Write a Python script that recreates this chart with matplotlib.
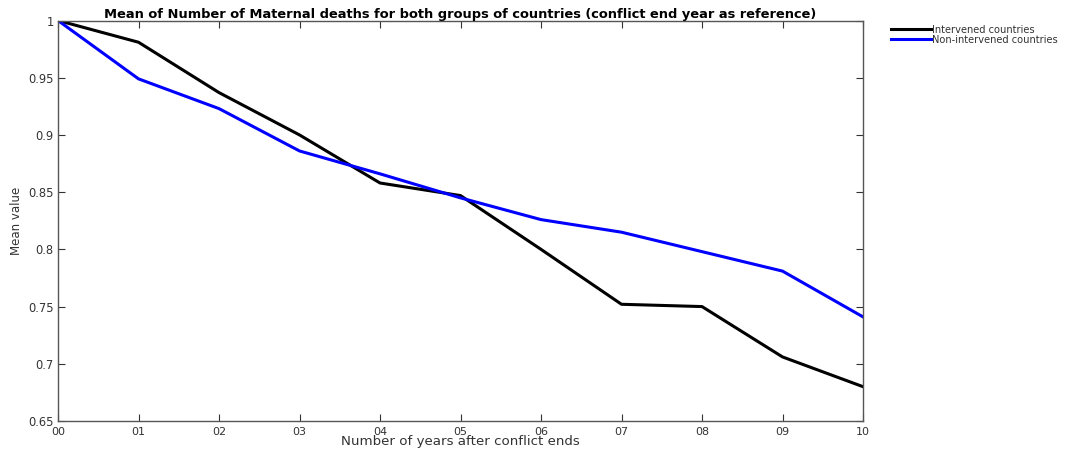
import matplotlib
matplotlib.use("Agg")
import matplotlib.pyplot as plt
from matplotlib.lines import Line2D

years = ["00", "01", "02", "03", "04", "05", "06", "07", "08", "09", "10"]
intervened = [1.000, 0.981, 0.937, 0.900, 0.858, 0.847, 0.800, 0.752, 0.750, 0.706, 0.680]
non_intervened = [1.000, 0.949, 0.923, 0.886, 0.866, 0.845, 0.826, 0.815, 0.798, 0.781, 0.741]
y_ticks = [0.65, 0.7, 0.75, 0.8, 0.85, 0.9, 0.95, 1.0]
y_tick_labels = ["0.65", "0.7", "0.75", "0.8", "0.85", "0.9", "0.95", "1"]

plt.rcParams["font.family"] = "DejaVu Sans"

fig = plt.figure(figsize=(10.72, 4.5), dpi=100)
ax = fig.add_axes([58 / 1072, 1 - 421 / 450, (863 - 58) / 1072, (421 - 20.5) / 450])

x = list(range(len(years)))
ax.plot(x, intervened, color="black", lw=2.2, label="Intervened countries")
ax.plot(x, non_intervened, color="#0000ff", lw=2.2, label="Non-intervened countries")

ax.set_xlim(0, len(years) - 1)
ax.set_ylim(0.65, 1.0)
ax.set_xticks(x)
ax.set_xticklabels(years)
ax.set_yticks(y_ticks)
ax.set_yticklabels(y_tick_labels)

for s in ax.spines.values():
    s.set_color("#555555")
    s.set_linewidth(1.0)
ax.tick_params(direction="in", length=5, width=0.8, color="#333333",
               labelsize=8.3, labelcolor="#333333", top=True, right=True)
ax.tick_params(axis="y", pad=3)
ax.tick_params(axis="x", labelsize=8, pad=4.5)

ax.set_xlabel("Number of years after conflict ends", fontsize=9.6, color="#333333", labelpad=-1.5)
ax.set_ylabel("Mean value", fontsize=8.5, color="#333333", labelpad=4)
ax.set_title("Mean of Number of Maternal deaths for both groups of countries (conflict end year as reference)",
             fontsize=9.4, fontweight="bold", pad=1.5)

handles = [Line2D([0], [0], color="black", lw=2.2),
           Line2D([0], [0], color="#0000ff", lw=2.2)]
fig.legend(handles, ["Intervened countries", "Non-intervened countries"],
           loc="upper left", bbox_to_anchor=(886 / 1072, 1 - 20 / 450),
           frameon=False, fontsize=7.1, handlelength=4.1, handletextpad=0.05,
           labelspacing=0.0, borderpad=0, labelcolor="#333333")

fig.savefig("out.png", dpi=100)
